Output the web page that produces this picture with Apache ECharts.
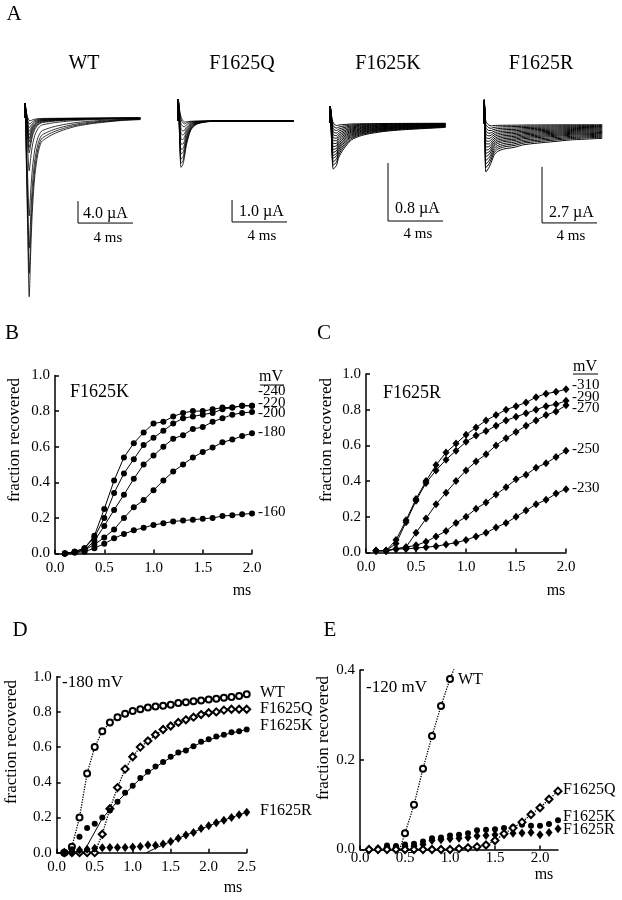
<!DOCTYPE html>
<html>
<head>
<meta charset="utf-8">
<script src="https://cdn.jsdelivr.net/npm/echarts@6/dist/echarts.min.js"></script>
<style>html,body{margin:0;padding:0;background:#fff}#chart{width:622px;height:900px}</style>
</head>
<body>
<div id="chart"></div>
<script>
const FONT = "'Liberation Serif','Times New Roman',serif";

// ---------- Panel A: current traces (ms, µA) ----------
const aTitles = ['WT', 'F1625Q', 'F1625K', 'F1625R'];
const wtTimes    = [0, 0.02, 0.1, 0.2, 0.32, 0.44, 0.56, 0.73, 0.95, 1.2, 1.6, 2.06, 2.8, 3.8, 5.0, 6.2, 7.2, 8.4];
const wtShape    = [0, 0, -0.25, -0.6, -1.0, -0.72, -0.5, -0.32, -0.2, -0.135, -0.11, -0.09, -0.067, -0.045, -0.03, -0.02, -0.013, -0.009];
const wtArtifact = [0, 2.7, 1.5, 0.6, 0.2, 0, 0, 0, 0, 0, 0, 0, 0, 0, 0, 0, 0, 0];
const wtPeak = 32.7;
const wtFractions = [0.02, 0.04, 0.06, 0.08, 0.1, 0.12, 0.14, 0.17, 0.2, 0.3, 0.55, 0.73, 0.87, 1.0];

const qTimes    = [0, 0.02, 0.1, 0.22, 0.36, 0.48, 0.6, 0.78, 0.97, 1.33, 1.94, 2.67, 4.0, 6.0, 8.4];
const qShape    = [0, 0, -0.45, -1.0, -0.87, -0.68, -0.48, -0.29, -0.16, -0.065, -0.02, -0.006, -0.002, 0, 0];
const qArtifact = [0, 1.0, 0.6, 0.25, 0.08, 0, 0, 0, 0, 0, 0, 0, 0, 0, 0];
const qPeak = 2.36;
const qFractions = [0.03, 0.08, 0.16, 0.26, 0.35, 0.45, 0.55, 0.65, 0.74, 0.84, 0.92, 1.0];

const kTimes    = [0, 0.02, 0.12, 0.24, 0.48, 0.61, 0.85, 1.21, 1.58, 2.3, 3.03, 4.0, 5.2, 6.4, 8.4];
const kShape    = [0, 0, -0.6, -1.0, -0.86, -0.72, -0.59, -0.45, -0.34, -0.255, -0.21, -0.17, -0.14, -0.12, -0.09];
const kArtifact = [0, 0.23, 0.12, 0.04, 0, 0, 0, 0, 0, 0, 0, 0, 0, 0, 0];
const kPeak = 0.676;
const kFractions = [0.06, 0.12, 0.18, 0.24, 0.3, 0.36, 0.42, 0.48, 0.54, 0.6, 0.66, 0.72, 0.78, 0.85, 0.92, 1.0];

const rTimes    = [0, 0.02, 0.08, 0.14, 0.36, 0.53, 0.73, 0.97, 1.45, 2.18, 2.9, 3.9, 5.1, 6.3, 8.6];
const rShape    = [0, 0, -0.6, -1.0, -0.84, -0.72, -0.59, -0.52, -0.47, -0.44, -0.39, -0.36, -0.33, -0.30, -0.27];
const rArtifact = [0, 1.16, 0.6, 0.25, 0.05, 0, 0, 0, 0, 0, 0, 0, 0, 0, 0];
const rPeak = 2.56;
const rFractions = [0.05, 0.11, 0.17, 0.23, 0.29, 0.35, 0.41, 0.47, 0.53, 0.59, 0.65, 0.71, 0.78, 0.85, 0.92, 1.0];

// scale bars: [start time, top current, ms length, µA length]
const wtBar = [3.87, -15.1, 4, 4.0];
const qBar  = [3.93, -3.59, 4, 1.0];
const kBar  = [4.22, -0.552, 4, 0.8];
const rBar  = [4.22, -2.07, 4, 2.7];
const barLabels = ['4.0 µA', '1.0 µA', '0.8 µA', '2.7 µA'];
const barTimeLabel = '4 ms';

// ---------- Panel B: F1625K ----------
const bTimes = [0.1,0.2,0.3,0.4,0.5,0.6,0.7,0.8,0.9,1.0,1.1,1.2,1.3,1.4,1.5,1.6,1.7,1.8,1.9,2.0];
const bNames = ['-240', '-220', '-200', '-180', '-160'];
const b240 = [0.0,0.01,0.03,0.10,0.25,0.41,0.54,0.62,0.68,0.73,0.74,0.77,0.79,0.80,0.80,0.81,0.82,0.82,0.83,0.83];
const b220 = [0.0,0.01,0.03,0.09,0.20,0.34,0.45,0.53,0.61,0.65,0.69,0.73,0.76,0.77,0.78,0.79,0.81,0.82,0.83,0.83];
const b200 = [0.0,0.01,0.02,0.07,0.155,0.245,0.33,0.42,0.50,0.55,0.60,0.645,0.665,0.70,0.71,0.74,0.76,0.78,0.79,0.795];
const b180 = [0.0,0.005,0.02,0.05,0.09,0.135,0.20,0.26,0.30,0.355,0.41,0.46,0.50,0.54,0.57,0.595,0.625,0.64,0.66,0.675];
const b160 = [0.0,0.005,0.01,0.03,0.055,0.085,0.11,0.13,0.145,0.16,0.17,0.18,0.185,0.19,0.195,0.20,0.21,0.215,0.22,0.225];

// ---------- Panel C: F1625R ----------
const cTimes = bTimes;
const cNames = ['-310', '-290', '-270', '-250', '-230'];
const c310 = [0.01,0.01,0.07,0.18,0.30,0.40,0.49,0.56,0.61,0.66,0.70,0.74,0.77,0.80,0.82,0.84,0.87,0.89,0.90,0.915];
const c290 = [0.01,0.01,0.05,0.17,0.29,0.39,0.46,0.52,0.57,0.62,0.655,0.68,0.71,0.74,0.76,0.78,0.80,0.82,0.83,0.85];
const c270 = [0.01,0.01,0.02,0.03,0.11,0.19,0.27,0.335,0.40,0.46,0.51,0.55,0.60,0.64,0.675,0.71,0.74,0.77,0.79,0.825];
const c250 = [0.01,0.01,0.02,0.03,0.04,0.06,0.09,0.12,0.165,0.20,0.245,0.28,0.325,0.365,0.41,0.435,0.475,0.50,0.535,0.57];
const c230 = [0.01,0.01,0.02,0.02,0.025,0.03,0.035,0.045,0.055,0.07,0.09,0.11,0.14,0.165,0.20,0.235,0.27,0.295,0.33,0.355];

// ---------- Panel D: -180 mV ----------
const dTimes = [0.1,0.2,0.3,0.4,0.5,0.6,0.7,0.8,0.9,1.0,1.1,1.2,1.3,1.4,1.5,1.6,1.7,1.8,1.9,2.0,2.1,2.2,2.3,2.4,2.5];
const dWT = [0.0,0.034,0.20,0.45,0.60,0.69,0.74,0.77,0.79,0.805,0.815,0.825,0.83,0.835,0.84,0.85,0.855,0.86,0.865,0.87,0.875,0.88,0.885,0.89,0.90];
const dQ  = [0,0,0,0,0,0.105,0.25,0.37,0.475,0.545,0.60,0.635,0.67,0.70,0.72,0.74,0.755,0.77,0.785,0.795,0.80,0.81,0.815,0.815,0.815];
const dK  = [0.0,0.02,0.09,0.14,0.165,0.20,0.24,0.29,0.34,0.38,0.425,0.46,0.49,0.515,0.545,0.57,0.58,0.605,0.63,0.645,0.66,0.67,0.685,0.69,0.70];
const dR  = [0.0,0.005,0.015,0.02,0.025,0.028,0.03,0.03,0.03,0.033,0.035,0.044,0.042,0.05,0.063,0.082,0.10,0.115,0.138,0.153,0.17,0.185,0.20,0.215,0.23];
const dKFitT = [0.35,0.6,0.7,0.8,0.9,1.0,1.1,1.2,1.3,1.4,1.5,1.6,1.7,1.8,1.9,2.0,2.1,2.2,2.3,2.4,2.5];
const dKFit  = [0,0.195,0.245,0.29,0.335,0.38,0.42,0.455,0.485,0.515,0.54,0.565,0.585,0.605,0.625,0.64,0.655,0.67,0.68,0.69,0.70];
const dRFitT = [1.18,1.3,1.4,1.5,1.6,1.7,1.8,1.9,2.0,2.1,2.2,2.3,2.4,2.5];
const dRFit  = [0,0.025,0.045,0.063,0.082,0.10,0.117,0.135,0.152,0.169,0.185,0.20,0.215,0.23];
const dNames = ['WT', 'F1625Q', 'F1625K', 'F1625R'];

// ---------- Panel E: -120 mV ----------
const eTimes = [0.1,0.2,0.3,0.4,0.5,0.6,0.7,0.8,0.9,1.0,1.1,1.2,1.3,1.4,1.5,1.6,1.7,1.8,1.9,2.0,2.1,2.2];
const eWTT = [0.5,0.6,0.7,0.8,0.9,1.0];
const eWT  = [0.036,0.10,0.18,0.253,0.32,0.38];
const eWTFitT = [0.44,0.5,0.6,0.7,0.8,0.9,1.0,1.06];
const eWTFit  = [0,0.036,0.10,0.18,0.253,0.32,0.38,0.41];
const eQ = [0,0,0,0,0,0,0,0,0,0,0.002,0.004,0.006,0.01,0.02,0.035,0.048,0.061,0.078,0.093,0.112,0.13];
const eK = [0.0,0.002,0.009,0.008,0.011,0.013,0.018,0.025,0.027,0.031,0.033,0.036,0.043,0.044,0.045,0.048,0.05,0.055,0.053,0.053,0.057,0.065];
const eR = [0.0,0.002,0.005,0.005,0.007,0.008,0.011,0.02,0.022,0.024,0.025,0.027,0.03,0.031,0.033,0.033,0.036,0.037,0.038,0.033,0.038,0.046];

// ---------- build ----------
const zip = (xs, ys) => xs.map((x, i) => [x, ys[i]]);

// grids: 0-3 panel A, 4 B, 5 C, 6 D, 7 E
const grids = [
  {left: 24.8, top: 96,   width: 115.5, height: 209},
  {left: 178,  top: 88,   width: 115.5, height: 143},
  {left: 330,  top: 94,   width: 115.5, height: 137.75},
  {left: 484,  top: 92.9, width: 118.25, height: 134.8},
  {left: 55,   top: 375.5, width: 197, height: 178},
  {left: 366,  top: 374,  width: 200, height: 178.5},
  {left: 56.7, top: 676.7, width: 190, height: 176},
  {left: 360,  top: 670,  width: 198, height: 179.5}
];
const aY = [[-34, 4], [-5, 1.5], [-1.5, 0.4], [-5, 1.5]];
const aX = [8.4, 8.4, 8.4, 8.6];

const xAxes = [], yAxes = [];
for (let i = 0; i < 4; i++) {
  xAxes.push({type: 'value', gridIndex: i, min: 0, max: aX[i], show: false});
  yAxes.push({type: 'value', gridIndex: i, min: aY[i][0], max: aY[i][1], show: false});
}
function plotX(gi, max, margin) {
  return {type: 'value', gridIndex: gi, min: 0, max: max, interval: 0.5,
    axisLine: {onZero: false, lineStyle: {color: '#000', width: 1.5}},
    axisTick: {inside: true, length: 4, lineStyle: {color: '#000', width: 1.5}},
    axisLabel: {formatter: v => v.toFixed(1), color: '#000', fontFamily: FONT, fontSize: 15, margin: margin, showMaxLabel: max % 0.5 === 0},
    splitLine: {show: false}};
}
function plotY(gi, max, interval) {
  return {type: 'value', gridIndex: gi, min: 0, max: max, interval: interval,
    axisLine: {show: true, onZero: false, lineStyle: {color: '#000', width: 1.5}},
    axisTick: {show: true, inside: true, length: 4, lineStyle: {color: '#000', width: 1.5}},
    axisLabel: {formatter: v => v.toFixed(1), color: '#000', fontFamily: FONT, fontSize: 15, margin: 5},
    splitLine: {show: false}};
}
xAxes.push(plotX(4, 2.0, 7), plotX(5, 2.0, 7), plotX(6, 2.5, 7), plotX(7, 2.2, 1));
yAxes.push(plotY(4, 1.0, 0.2), plotY(5, 1.0, 0.2), plotY(6, 1.0, 0.2), plotY(7, 0.4, 0.2));

const series = [];
function traces(gi, times, shape, art, peak, fracs, w) {
  fracs.forEach(f => series.push({
    type: 'line', xAxisIndex: gi, yAxisIndex: gi, symbol: 'none', smooth: 0.25, silent: true,
    lineStyle: {color: '#000', width: w},
    data: times.map((t, j) => [t, art[j] + f * peak * shape[j]])
  }));
}
traces(0, wtTimes, wtShape, wtArtifact, wtPeak, wtFractions, 0.8);
traces(1, qTimes, qShape, qArtifact, qPeak, qFractions, 0.8);
traces(2, kTimes, kShape, kArtifact, kPeak, kFractions, 1.0);
traces(3, rTimes, rShape, rArtifact, rPeak, rFractions, 1.0);
[wtBar, qBar, kBar, rBar].forEach((b, gi) => series.push({
  type: 'line', xAxisIndex: gi, yAxisIndex: gi, symbol: 'none', silent: true,
  lineStyle: {color: '#000', width: 1},
  data: [[b[0], b[1]], [b[0], b[1] - b[3]], [b[0] + b[2], b[1] - b[3]]]
}));

function lineSet(gi, xs, ys, symbol, size) {
  series.push({type: 'line', xAxisIndex: gi, yAxisIndex: gi, data: zip(xs, ys), symbol: symbol, symbolSize: size,
    lineStyle: {color: '#000', width: 1}, itemStyle: {color: '#000'}, silent: true});
}
[b240, b220, b200, b180, b160].forEach(d => lineSet(4, bTimes, d, 'circle', 6));
[c310, c290, c270, c250, c230].forEach(d => lineSet(5, cTimes, d, 'diamond', [7, 8]));

function fitLine(gi, xs, ys, type) {
  series.push({type: 'line', xAxisIndex: gi, yAxisIndex: gi, data: zip(xs, ys), symbol: 'none', silent: true,
    lineStyle: {color: '#000', width: type === 'dotted' ? 1.3 : 1, type: type, opacity: 1}});
}
function pts(gi, xs, ys, symbol, size) {
  const empty = symbol.indexOf('empty') === 0;
  series.push({type: 'scatter', xAxisIndex: gi, yAxisIndex: gi, data: zip(xs, ys), symbol: symbol, symbolSize: size,
    itemStyle: {color: '#000', opacity: 1, borderWidth: empty ? 0.7 : 0}, silent: true, z: 3});
}
// D
fitLine(6, dTimes, dWT, 'dotted');
fitLine(6, dTimes, dQ, 'dotted');
fitLine(6, dKFitT, dKFit, 'solid');
fitLine(6, dRFitT, dRFit, 'solid');
pts(6, dTimes, dWT, 'emptyCircle', 6);
pts(6, dTimes, dQ, 'emptyDiamond', 7);
pts(6, dTimes, dK, 'circle', 6);
pts(6, dTimes, dR, 'diamond', [7, 9]);
// E
fitLine(7, eWTFitT, eWTFit, 'dotted');
fitLine(7, eTimes, eQ, 'dotted');
pts(7, eTimes, eK, 'circle', 6);
pts(7, eTimes, eR, 'diamond', [7, 9]);
pts(7, eTimes, eQ, 'emptyDiamond', 7);
pts(7, eWTT, eWT, 'emptyCircle', 6);

// ---------- texts ----------
const g = [];
function txt(s, x, y, size, align) {
  g.push({type: 'text', x: x, y: y, silent: true,
    style: {text: s, font: size + 'px ' + FONT, fill: '#000', textAlign: align || 'left', textVerticalAlign: 'middle', align: align || 'left', verticalAlign: 'middle'}});
}
function vtxt(s, x, y, size) {
  g.push({type: 'text', x: x, y: y, rotation: Math.PI / 2, silent: true,
    style: {text: s, font: size + 'px ' + FONT, fill: '#000', textAlign: 'center', textVerticalAlign: 'middle', align: 'center', verticalAlign: 'middle'}});
}
function uline(x1, x2, y) {
  g.push({type: 'line', silent: true, shape: {x1: x1, y1: y, x2: x2, y2: y}, style: {stroke: '#000', lineWidth: 1}});
}
txt('A', 14, 14, 21, 'center');
const titleX = [84, 242, 388, 541];
aTitles.forEach((t, i) => txt(t, titleX[i], 64, 20, 'center'));
const barLabX = [83, 239, 395, 549], barLabY = [214, 212, 209, 213];
const msX = [108, 262, 418, 571], msY = [238, 236, 234, 236];
barLabels.forEach((t, i) => { txt(t, barLabX[i], barLabY[i], 16, 'left'); txt(barTimeLabel, msX[i], msY[i], 15, 'center'); });

txt('B', 12, 333, 21, 'center');
txt('C', 324, 333, 21, 'center');
txt('D', 20, 630, 21, 'center');
txt('E', 330, 630, 21, 'center');
vtxt('fraction recovered', 15, 440, 17);
vtxt('fraction recovered', 327, 440, 17);
vtxt('fraction recovered', 12, 742, 17);
vtxt('fraction recovered', 324, 738, 17);
txt('ms', 242, 591, 16, 'center');
txt('ms', 556, 591, 16, 'center');
txt('ms', 233, 888, 16, 'center');
txt('ms', 544, 875, 16, 'center');

txt('F1625K', 70, 392, 18, 'left');
txt('F1625R', 383, 393, 18, 'left');
txt('mV', 271, 377, 16, 'center'); uline(260, 284, 385);
txt('mV', 585, 367, 16, 'center'); uline(573, 598, 374);
const bLabY = [391, 403, 413, 432, 512];
bNames.forEach((t, i) => txt(t, 258, bLabY[i], 15, 'left'));
const cLabY = [385, 397, 408, 449, 488];
cNames.forEach((t, i) => txt(t, 572, cLabY[i], 15, 'left'));

txt('-180 mV', 62, 683, 17, 'left');
const dLabX = [260, 260, 260, 260], dLabY = [693, 709, 726, 811];
dNames.forEach((t, i) => txt(t, dLabX[i], dLabY[i], 16, 'left'));
txt('-120 mV', 366, 688, 17, 'left');
const eLabX = [458, 563, 563, 563], eLabY = [680, 790, 817, 830];
dNames.forEach((t, i) => txt(t, eLabX[i], eLabY[i], 16, 'left'));

const chart = echarts.init(document.getElementById('chart'), null, {renderer: 'canvas'});
chart.setOption({
  backgroundColor: '#fff',
  animation: false,
  grid: grids,
  xAxis: xAxes,
  yAxis: yAxes,
  series: series,
  graphic: g
});
</script>
</body>
</html>
